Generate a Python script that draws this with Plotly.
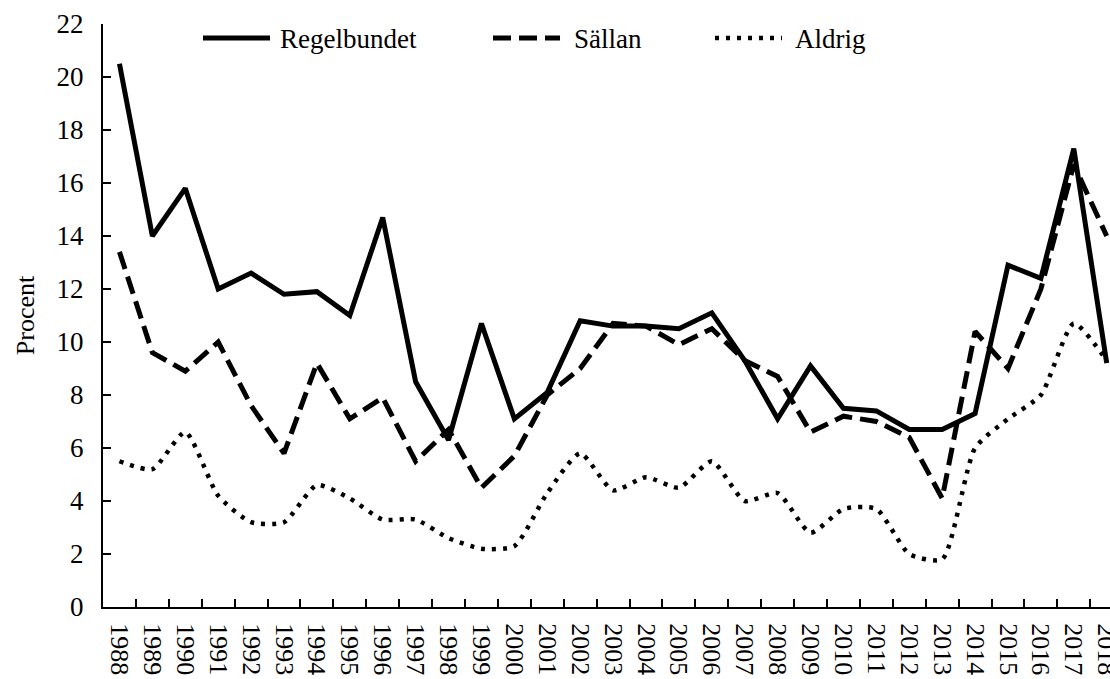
import plotly.graph_objects as go

years = [str(y) for y in range(1988, 2019)]
regelbundet = [20.5, 14.0, 15.8, 12.0, 12.6, 11.8, 11.9, 11.0, 14.7, 8.5,
               6.3, 10.7, 7.1, 8.1, 10.8, 10.6, 10.6, 10.5, 11.1, 9.3,
               7.1, 9.1, 7.5, 7.4, 6.7, 6.7, 7.3, 12.9, 12.4, 17.3, 9.2]
sallan = [13.4, 9.6, 8.9, 10.0, 7.6, 5.8, 9.2, 7.1, 7.9, 5.5,
          6.7, 4.5, 5.7, 8.0, 9.0, 10.7, 10.6, 9.9, 10.5, 9.3,
          8.7, 6.6, 7.2, 7.0, 6.4, 4.1, 10.4, 9.0, 12.0, 16.7, 14.0]
aldrig = [5.5, 5.2, 6.6, 4.2, 3.2, 3.2, 4.6, 4.1, 3.3, 3.3,
          2.6, 2.2, 2.3, 4.3, 5.8, 4.4, 4.9, 4.5, 5.5, 4.0,
          4.3, 2.8, 3.7, 3.7, 2.0, 1.8, 6.0, 7.1, 8.0, 10.7, 9.3]
y_ticks = list(range(0, 23, 2))
series_names = ["Regelbundet", "Sällan", "Aldrig"]

FONT = "Times New Roman, Liberation Serif, serif"
W, H = 1110, 679
ML, MR, MT, MB = 103, 0, 24, 72
PW, PH = W - ML - MR, H - MT - MB

dash_styles = ["solid", "18px,8px", "4px,7px"]
widths = [5, 5, 4.5]
use_spline = [False, False, True]

fig = go.Figure()
for name, vals, dash, w, sp in zip(series_names, [regelbundet, sallan, aldrig], dash_styles, widths, use_spline):
    fig.add_trace(go.Scatter(
        x=years, y=vals, name=name, mode="lines",
        line=dict(color="black", width=w, dash=dash,
                  shape="spline" if sp else "linear", smoothing=0.6),
        showlegend=False,
    ))

def px_x(p):
    return (p - ML) / PW

def px_y(p):
    return (H - MB - p) / PH

# custom legend (pixel positions)
legend_items = [(203, 270, 278), (493, 560, 572), (715, 782, 793)]
shapes = []
annotations = []
for (x0, x1, tx), name, dash, w in zip(legend_items, series_names, dash_styles, widths):
    shapes.append(dict(type="line", xref="paper", yref="paper",
                       x0=px_x(x0), x1=px_x(x1), y0=px_y(38), y1=px_y(38),
                       line=dict(color="black", width=w, dash=dash)))
    annotations.append(dict(text=name, xref="paper", yref="paper",
                            x=px_x(tx), y=px_y(39), xanchor="left", yanchor="middle",
                            showarrow=False, font=dict(family=FONT, size=27, color="black")))

fig.update_layout(
    width=W, height=H,
    margin=dict(l=ML, r=MR, t=MT, b=MB, autoexpand=False),
    paper_bgcolor="white", plot_bgcolor="white",
    font=dict(family=FONT, size=27, color="black"),
    shapes=shapes, annotations=annotations,
    showlegend=False,
)
fig.update_xaxes(
    type="category", range=[-0.5, 30.1], automargin=False,
    showline=True, linecolor="black", linewidth=2,
    ticks="inside", ticklen=8, tickwidth=1.5, tickcolor="black",
    tickson="boundaries", tickangle=90, showgrid=False, zeroline=False,
    tickfont=dict(family=FONT, size=26), ticklabelstandoff=9,
)
fig.update_yaxes(
    range=[0, 22], tickvals=y_ticks, ticktext=[str(v) for v in y_ticks],
    automargin=False,
    showline=True, linecolor="black", linewidth=2,
    ticks="inside", ticklen=8, tickwidth=1.5, tickcolor="black",
    showgrid=False, zeroline=False,
    tickfont=dict(family=FONT, size=27), ticklabelstandoff=12,
    title=dict(text="Procent", font=dict(family=FONT, size=26), standoff=14),
)

fig.write_html(
    "out.html",
    config={"displayModeBar": False},
    post_script="document.body.style.margin='0';document.body.style.overflow='hidden';",
)
